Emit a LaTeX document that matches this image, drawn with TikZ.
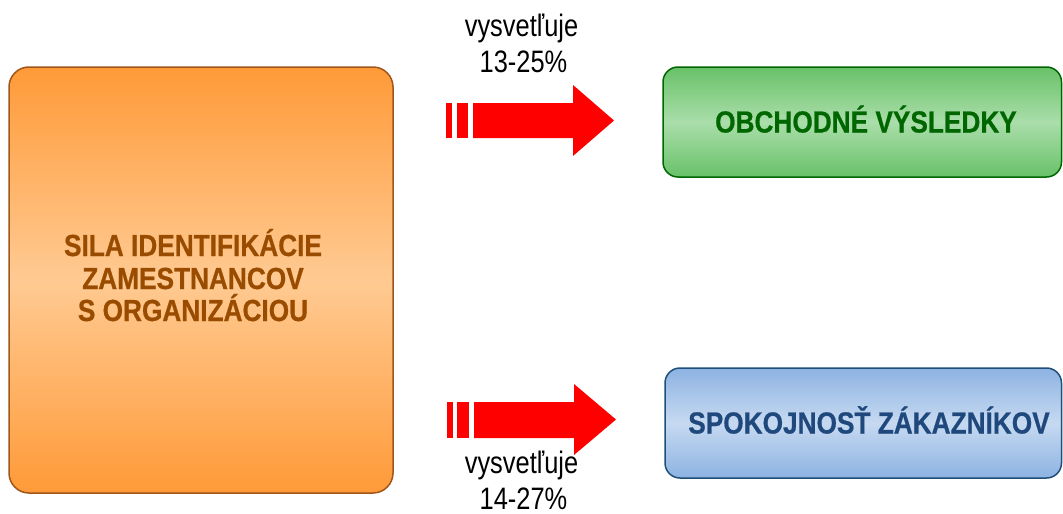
\documentclass[tikz,border=0pt]{standalone}
\usepackage{fontspec}
\newfontfamily\lblfont[FakeStretch=0.82]{Liberation Sans}
\newfontfamily\boxfont[FakeStretch=0.86, BoldFeatures={FakeBold=0.6}]{Liberation Sans}
\definecolor{orTop}{HTML}{FF9A38}
\definecolor{orMid}{HTML}{FFCA92}
\definecolor{orLine}{HTML}{A0561A}
\definecolor{orText}{HTML}{994C00}
\definecolor{grTop}{HTML}{68C268}
\definecolor{grMid}{HTML}{AADDAA}
\definecolor{grLine}{HTML}{006600}
\definecolor{grText}{HTML}{006600}
\definecolor{blTop}{HTML}{8DB3E2}
\definecolor{blMid}{HTML}{C6D9F1}
\definecolor{blLine}{HTML}{1F4E79}
\definecolor{blText}{HTML}{1F497D}
\definecolor{arRed}{HTML}{FF0000}
\begin{document}
\begin{tikzpicture}[x=1pt,y=-1pt,
  boxbase/.style={draw, line width=1.5pt, inner sep=0pt},
  orangebox/.style={boxbase, draw=orLine, rounded corners=20pt,
     top color=orTop, bottom color=orTop, middle color=orMid},
  greenbox/.style={boxbase, draw=grLine, rounded corners=15pt,
     top color=grTop, bottom color=grTop, middle color=grMid},
  bluebox/.style={boxbase, draw=blLine, rounded corners=15pt,
     top color=blTop, bottom color=blTop, middle color=blMid},
  boxtext/.style={anchor=base, inner sep=0pt, font=\boxfont\bfseries\fontsize{30.5}{33}\selectfont},
  lbl/.style={anchor=base, inner sep=0pt, font=\lblfont\fontsize{31}{36}\selectfont, text=black},
  blockarrow/.style={fill=arRed, draw=none}
]
\useasboundingbox (0,0) rectangle (1063,514);

% boxes
\node[orangebox, minimum width=384pt, minimum height=426pt] (src) at (201,280) {};
\node[boxtext, text=orText] (srcA) at (193,256) {SILA IDENTIFIKÁCIE};
\node[boxtext, text=orText] (srcB) at (193,289) {ZAMESTNANCOV};
\node[boxtext, text=orText] (srcC) at (193,321) {S ORGANIZÁCIOU};

\node[greenbox, minimum width=398.5pt, minimum height=110pt] (res) at (862.25,122) {};
\node[boxtext, text=grText] (resT) at (866,132.5) {OBCHODNÉ VÝSLEDKY};

\node[bluebox, minimum width=396.5pt, minimum height=110pt] (cus) at (863.25,423) {};
\node[boxtext, text=blText] (cusT) at (869,433.5) {SPOKOJNOSŤ ZÁKAZNÍKOV};

% top arrow
\fill[blockarrow] (446,103) rectangle (452,138);
\fill[blockarrow] (457,103) rectangle (468,138);
\fill[blockarrow] (473,103) -- (573,103) -- (573,85) -- (614,120.5)
   -- (573,156) -- (573,138) -- (473,138) -- cycle;
\node[lbl] (topA) at (521.5,36) {vysvetľuje};
\node[lbl] (topB) at (523.5,72) {13-25\%};

% bottom arrow
\fill[blockarrow] (447,402) rectangle (453,438);
\fill[blockarrow] (457,402) rectangle (469,438);
\fill[blockarrow] (474,402) -- (574,402) -- (574,384) -- (616,419.5)
   -- (574,455) -- (574,438) -- (474,438) -- cycle;
\node[lbl] (botA) at (521.5,473.5) {vysvetľuje};
\node[lbl] (botB) at (523.5,509.5) {14-27\%};
\end{tikzpicture}
\end{document}
